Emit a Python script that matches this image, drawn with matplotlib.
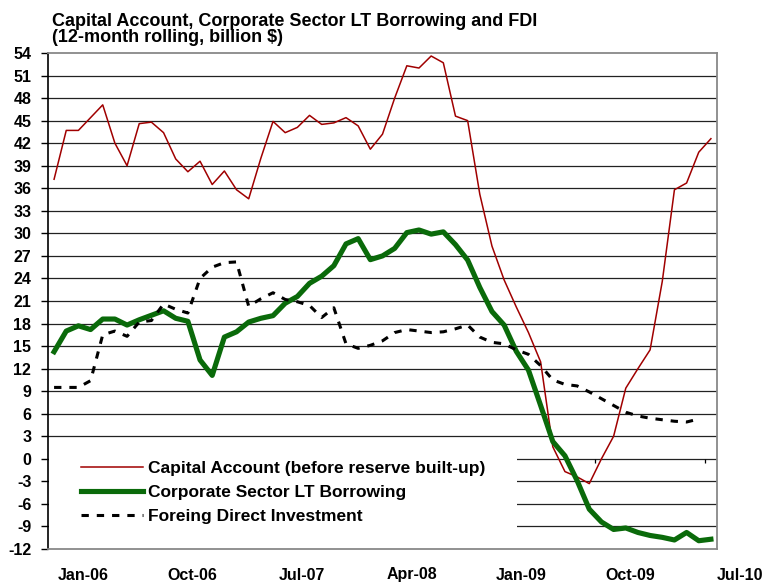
import numpy as np
import matplotlib
matplotlib.use("Agg")
import matplotlib.pyplot as plt
from matplotlib.patches import Rectangle
from matplotlib.transforms import blended_transform_factory

plt.rcParams['font.family'] = ['Liberation Sans', 'DejaVu Sans']

# Monthly, Jan-06 .. Jul-10 (55 months)
months = np.arange(55)
tick_labels = ["Jan-06", "Oct-06", "Jul-07", "Apr-08", "Jan-09", "Oct-09", "Jul-10"]

capital_account = [
    37.2, 43.7, 43.7, 45.4, 47.1, 42.0, 39.0, 44.6, 44.8, 43.4,
    39.9, 38.2, 39.6, 36.5, 38.3, 35.8, 34.6, 40.0, 44.9, 43.4,
    44.1, 45.7, 44.5, 44.7, 45.4, 44.3, 41.2, 43.2, 48.0, 52.3,
    52.0, 53.6, 52.7, 45.6, 45.0, 35.2, 28.3, 23.8, 20.2, 16.8,
    12.9, 1.6, -1.7, -2.4, -3.3, 0.0, 3.0, 9.4, 12.0, 14.5,
    23.6, 35.8, 36.7, 40.8, 42.6]

corporate_lt = [
    14.25, 17.0, 17.7, 17.2, 18.6, 18.6, 17.8, 18.5, 19.1, 19.7,
    18.7, 18.3, 13.15, 11.1, 16.2, 16.9, 18.2, 18.7, 19.05, 20.7,
    21.6, 23.35, 24.3, 25.7, 28.6, 29.3, 26.5, 27.0, 28.0, 30.1,
    30.45, 29.9, 30.2, 28.5, 26.45, 22.8, 19.6, 17.8, 14.3, 11.8,
    7.1, 2.3, 0.4, -2.9, -6.7, -8.4, -9.4, -9.2, -9.8, -10.2,
    -10.45, -10.8, -9.8, -10.9, -10.7]

fdi = [
    9.5, 9.5, 9.5, 10.4, 16.5, 17.0, 16.3, 18.2, 18.4, 20.6,
    19.9, 19.4, 24.0, 25.5, 26.1, 26.2, 20.3, 21.3, 22.1, 21.2,
    20.9, 20.4, 18.8, 20.1, 15.3, 14.7, 15.1, 15.7, 16.8, 17.2,
    17.0, 16.8, 16.9, 17.3, 17.8, 16.2, 15.5, 15.3, 14.5, 13.9,
    12.4, 10.5, 9.9, 9.7, 8.9, 8.0, 7.1, 6.2, 5.7, 5.4,
    5.2, 5.0, 4.9, 5.3, np.nan]

series_names = ["Capital Account (before reserve built-up)",
                "Corporate Sector LT Borrowing",
                "Foreing Direct Investment"]

W, H = 765, 585
fig = plt.figure(figsize=(W / 100, H / 100), dpi=100)
L, R, T, B = 48, 717, 53, 549
ax = fig.add_axes([L / W, 1 - B / H, (R - L) / W, (B - T) / H])

ax.set_xlim(-0.5, 54.5)
ax.set_ylim(-12, 54)
yt = np.arange(-12, 55, 3)
ax.set_yticks(yt)
ax.set_yticklabels([str(v) for v in yt], fontsize=11.5, fontweight='bold')
ax.tick_params(axis='y', direction='out', length=5, width=1, pad=7, colors='black')
ax.set_xticks([])

for v in yt[1:-1]:
    ax.axhline(v, color='#222222', lw=0.9, zorder=1)

ax.spines['left'].set_color('black')
ax.spines['left'].set_linewidth(1.2)
for s in ['top', 'right', 'bottom']:
    ax.spines[s].set_color('#888888')
    ax.spines[s].set_linewidth(1.3)

# category tick marks on the zero line
tick_pos = np.arange(0, 55, 9) - 0.5
ax.vlines(tick_pos[1:], -0.55, 0, color='black', lw=0.9, zorder=1)

ax.plot(months, capital_account, color='#a00000', lw=1.1, zorder=3,
        label=series_names[0])
ax.plot(months, corporate_lt, color='#0a6a0a', lw=3.7, zorder=4,
        solid_joinstyle='round', label=series_names[1])
ax.plot(months, fdi, color='black', lw=2.2, dashes=(2.4, 2.6), zorder=5,
        label=series_names[2])

# white legend area
ax.add_patch(Rectangle((0.002, 0.006), 0.699, 0.197, transform=ax.transAxes,
                       facecolor='white', edgecolor='none', zorder=2))
leg = ax.legend(loc='upper left', bbox_to_anchor=((81 - L) / (R - L), (B - 461) / (B - T)),
                frameon=False, borderpad=0, borderaxespad=0, handlelength=3.55,
                handletextpad=0.3, labelspacing=0.5,
                prop={'weight': 'bold', 'size': 12.5})
leg.set_zorder(6)

# x category labels (offset to the right of their tick, as in the source)
trans = blended_transform_factory(ax.transData, ax.transAxes)
for k, lab in enumerate(tick_labels):
    ax.text(tick_pos[k] + 2.9, -26 / (B - T), lab, transform=trans,
            ha='center', va='center', fontsize=11.5, fontweight='bold',
            clip_on=False)

fig.text(52 / W, 1 - 21 / H, "Capital Account, Corporate Sector LT Borrowing and FDI",
         ha='left', va='center', fontsize=13, fontweight='bold')
fig.text(52 / W, 1 - 38 / H, "(12-month rolling, billion $)",
         ha='left', va='center', fontsize=13, fontweight='bold')

fig.savefig("out.png", dpi=100)
